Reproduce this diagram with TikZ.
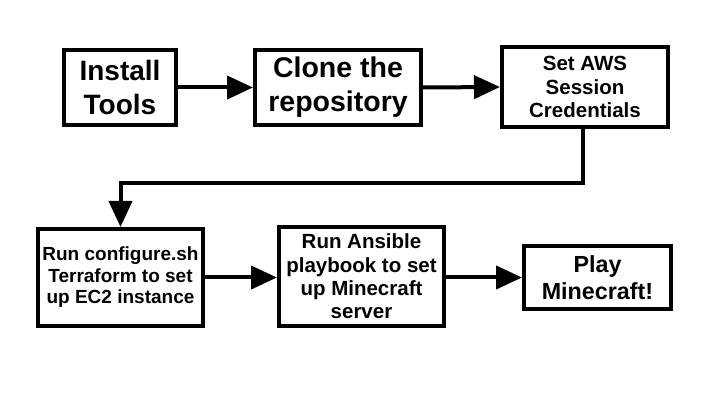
\documentclass[tikz,border=0pt]{standalone}
\usepackage{fontspec}
\setmainfont{Liberation Sans}
\usetikzlibrary{arrows.meta}
\begin{document}
\begin{tikzpicture}[x=1pt,y=-1pt,
  stepbox/.style={draw=black,line width=4pt,fill=white,align=center,inner sep=0pt,font=\bfseries},
  conn/.style={line width=4pt,-{Triangle[length=26pt,width=23pt]}}]
\useasboundingbox (0,0) rectangle (710,414);
\node[stepbox,minimum width=112pt,minimum height=75pt,font=\bfseries\fontsize{28}{34}\selectfont] (b1) at (120,87.5) {Install\\Tools};
\node[stepbox,minimum width=166pt,minimum height=75pt,font=\bfseries\fontsize{28.5}{34}\selectfont] (b2) at (338,87.5) {Clone the\\repository};
\node[stepbox,minimum width=166pt,minimum height=80pt,font=\bfseries\fontsize{20.5}{23.3}\selectfont] (b3) at (585,87) {Set AWS\\Session\\Credentials};
\node[stepbox,minimum width=165pt,minimum height=97pt,font=\bfseries\fontsize{19}{21.5}\selectfont] (b4) at (120.5,277.5) {Run configure.sh\\Terraform to set\\up EC2 instance};
\node[stepbox,minimum width=165pt,minimum height=99pt,font=\bfseries\fontsize{20.5}{23.3}\selectfont] (b5) at (361.5,276.5) {Run Ansible\\playbook to set\\up Minecraft\\server};
\node[stepbox,minimum width=147pt,minimum height=63pt,font=\bfseries\fontsize{23.3}{26.7}\selectfont] (b6) at (597.5,277.5) {Play\\Minecraft!};
\coordinate (t1) at (583,183);
\draw[conn] (b1.east) -- (b2.west);
\draw[conn] (b2.east) -- (b3.west);
\draw[conn] (b3.south -| t1) -- (t1) -| (b4.north);
\draw[conn] (b4.east) -- (b5.west |- b4.east);
\draw[conn] (b5.east |- b6.west) -- (b6.west);
\end{tikzpicture}
\end{document}
